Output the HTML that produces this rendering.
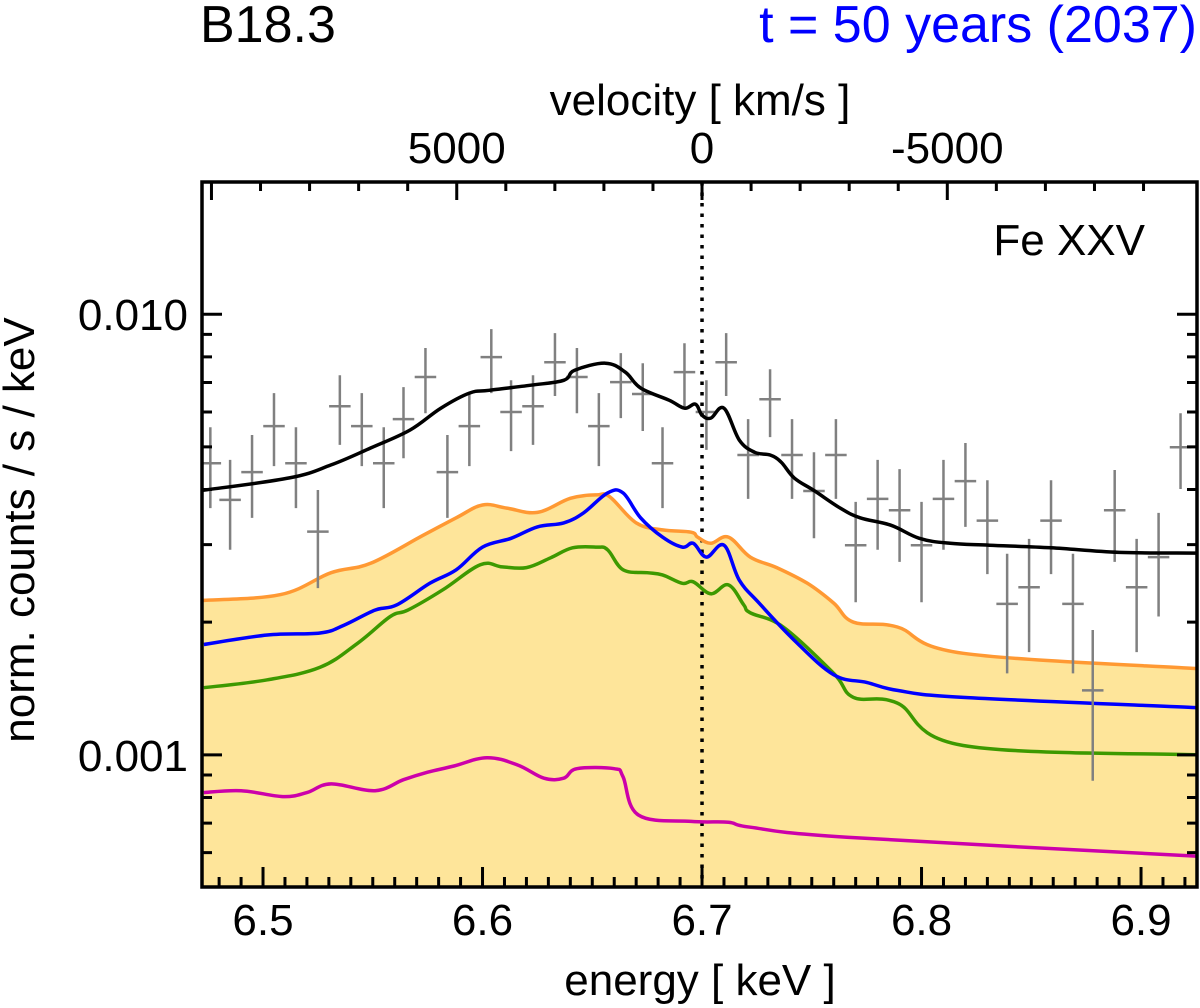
<!DOCTYPE html>
<html><head><meta charset="utf-8"><style>
html,body{margin:0;padding:0;background:#fff}
svg{display:block;font-family:"Liberation Sans",Arial,sans-serif}
</style></head><body>
<svg id="chart" width="1200" height="1008" viewBox="0 0 1200 1008" xmlns="http://www.w3.org/2000/svg">
<text x="200" y="42" font-size="52" fill="#000">B18.3</text>
<text x="1197" y="42" font-size="52" fill="#0000ff" text-anchor="end">t = 50 years (2037)</text>
<text x="700" y="115" font-size="44" text-anchor="middle">velocity [ km/s ]</text>
<text x="1145" y="255" font-size="44" text-anchor="end">Fe XXV</text>
<text x="700" y="995" font-size="44" text-anchor="middle">energy [ keV ]</text>
<text transform="translate(34,530) rotate(-90)" font-size="44" text-anchor="middle">norm. counts / s / keV</text>
<g id="plot"></g>
</svg>
<script>
const xMin=6.4722, xMax=6.9255, pLeft=202, pRight=1197, pTop=182, pBottom=887;
const yLogMin=-3.30, yLogMax=-1.70;
const xTicks=[6.5,6.6,6.7,6.8,6.9];
const xTickLabels=["6.5","6.6","6.7","6.8","6.9"];
const yTicks=[0.001,0.01];
const yTickLabels=["0.001","0.010"];
const velTicks=[5000,0,-5000];
const velTickLabels=["5000","0","-5000"];
const lineE=6.7;

const orangeE=[6.472,6.508,6.531,6.549,6.573,6.588,6.600,6.611,6.625,6.640,6.652,6.658,6.670,6.682,6.695,6.698,6.704,6.712,6.722,6.734,6.748,6.760,6.769,6.789,6.819,6.925];
const orangeV=[0.00224,0.00231,0.00259,0.00272,0.00315,0.00345,0.00369,0.00363,0.00355,0.00382,0.00389,0.00385,0.00336,0.00324,0.00320,0.00312,0.00302,0.00312,0.00281,0.00266,0.00245,0.00221,0.00200,0.00195,0.00170,0.00157];
const blueE=[6.473,6.502,6.526,6.537,6.551,6.561,6.576,6.588,6.600,6.613,6.625,6.637,6.646,6.657,6.664,6.672,6.682,6.691,6.696,6.702,6.710,6.717,6.726,6.742,6.760,6.775,6.789,6.819,6.925];
const blueV=[0.00178,0.00187,0.00189,0.00197,0.00213,0.00219,0.00245,0.00263,0.00296,0.00310,0.00329,0.00336,0.00354,0.00393,0.00393,0.00345,0.00312,0.00296,0.00302,0.00281,0.00299,0.00249,0.00221,0.00182,0.00152,0.00146,0.00140,0.00135,0.00128];
const greenE=[6.473,6.502,6.526,6.543,6.558,6.566,6.582,6.599,6.609,6.620,6.631,6.641,6.652,6.657,6.664,6.675,6.682,6.691,6.696,6.704,6.712,6.719,6.722,6.737,6.760,6.769,6.789,6.819,6.925];
const greenV=[0.00142,0.00148,0.00158,0.00179,0.00206,0.00213,0.00237,0.00270,0.00267,0.00266,0.00280,0.00295,0.00296,0.00292,0.00263,0.00259,0.00256,0.00245,0.00247,0.00232,0.00243,0.00219,0.00210,0.00195,0.00153,0.00135,0.00131,0.00105,0.00100];
const magentaE=[6.473,6.490,6.509,6.520,6.531,6.551,6.564,6.575,6.587,6.602,6.616,6.628,6.637,6.643,6.660,6.664,6.671,6.695,6.712,6.722,6.766,6.925];
const magentaV=[0.000821,0.000829,0.000804,0.000821,0.000859,0.000829,0.000878,0.000913,0.000943,0.000985,0.000948,0.000885,0.000885,0.000930,0.000930,0.000892,0.000730,0.000706,0.000703,0.000685,0.000650,0.000589];
const blackE=[6.472,6.512,6.531,6.549,6.567,6.581,6.594,6.603,6.622,6.637,6.642,6.656,6.665,6.672,6.685,6.692,6.697,6.700,6.704,6.710,6.717,6.724,6.731,6.736,6.742,6.751,6.763,6.772,6.786,6.799,6.813,6.831,6.859,6.890,6.925];
const blackV=[0.00398,0.00425,0.00455,0.00497,0.00546,0.00612,0.00662,0.00672,0.00690,0.00708,0.00746,0.00774,0.00739,0.00680,0.00638,0.00612,0.00625,0.00590,0.00581,0.00612,0.00518,0.00486,0.00479,0.00462,0.00425,0.00398,0.00363,0.00345,0.00332,0.00310,0.00302,0.00299,0.00295,0.00288,0.00287];

const dataE=[6.476,6.485,6.495,6.505,6.515,6.525,6.535,6.545,6.555,6.564,6.574,6.584,6.594,6.604,6.613,6.623,6.633,6.643,6.653,6.663,6.673,6.682,6.692,6.702,6.711,6.721,6.731,6.741,6.751,6.761,6.770,6.780,6.790,6.800,6.810,6.820,6.830,6.839,6.849,6.859,6.869,6.878,6.888,6.898,6.908,6.918];
const dataV=[0.00459,0.00379,0.00438,0.00557,0.00459,0.00321,0.00618,0.00557,0.00459,0.00578,0.00720,0.00438,0.00557,0.00799,0.00600,0.00618,0.00778,0.00720,0.00557,0.00701,0.00659,0.00459,0.00739,0.00600,0.00778,0.00479,0.00641,0.00479,0.00397,0.00479,0.00299,0.00381,0.00359,0.00299,0.00381,0.00418,0.00340,0.00220,0.00240,0.00340,0.00220,0.00140,0.00359,0.00240,0.00281,0.00499];
const dataLo=[0.00363,0.00292,0.00345,0.00452,0.00363,0.00239,0.00505,0.00452,0.00363,0.00471,0.00596,0.00345,0.00452,0.00662,0.00489,0.00505,0.00652,0.00596,0.00452,0.00581,0.00543,0.00363,0.00615,0.00492,0.00652,0.00381,0.00526,0.00381,0.00310,0.00381,0.00222,0.00292,0.00274,0.00222,0.00292,0.00329,0.00257,0.00153,0.00171,0.00257,0.00153,0.000873,0.00274,0.00171,0.00206,0.00401];
const dataHi=[0.00554,0.00467,0.00532,0.00662,0.00554,0.00399,0.00727,0.00662,0.00554,0.00683,0.00838,0.00532,0.00662,0.00925,0.00708,0.00727,0.00906,0.00838,0.00662,0.00816,0.00774,0.00554,0.00859,0.00708,0.00906,0.00578,0.00750,0.00578,0.00486,0.00578,0.00375,0.00467,0.00445,0.00375,0.00467,0.00510,0.00420,0.00286,0.00309,0.00420,0.00286,0.00192,0.00443,0.00309,0.00354,0.00596];
const binHalf=0.0049;

const NS="http://www.w3.org/2000/svg";
const X=e=>pLeft+(e-xMin)/(xMax-xMin)*(pRight-pLeft);
const Y=v=>pBottom-(Math.log10(v)-yLogMin)/(yLogMax-yLogMin)*(pBottom-pTop);
const velToE=v=>lineE*(1-v/299792.458);
const g=document.getElementById('plot');
function mk(tag,attrs,parent){const el=document.createElementNS(NS,tag);for(const k in attrs)el.setAttribute(k,attrs[k]);(parent||g).appendChild(el);return el;}
function smooth(E,V){
  const P=E.map((e,i)=>[X(e),Y(V[i])]);
  let s=`M${P[0][0].toFixed(1)},${P[0][1].toFixed(1)}`;
  for(let i=0;i<P.length-1;i++){
    const p0=P[Math.max(0,i-1)],p1=P[i],p2=P[i+1],p3=P[Math.min(P.length-1,i+2)];
    const t=0.18;
    const c1=[p1[0]+(p2[0]-p0[0])*t,p1[1]+(p2[1]-p0[1])*t];
    const c2=[p2[0]-(p3[0]-p1[0])*t,p2[1]-(p3[1]-p1[1])*t];
    s+=`C${c1[0].toFixed(1)},${c1[1].toFixed(1)} ${c2[0].toFixed(1)},${c2[1].toFixed(1)} ${p2[0].toFixed(1)},${p2[1].toFixed(1)}`;
  }
  return s;
}

const defs=mk('defs',{});
const cp=mk('clipPath',{id:'clip'},defs);
mk('rect',{x:pLeft,y:pTop,width:pRight-pLeft,height:pBottom-pTop},cp);
const clipG=mk('g',{'clip-path':'url(#clip)'});

const fill=mk('path',{d:smooth(orangeE,orangeV)+`L${X(orangeE[orangeE.length-1])},${pBottom}L${X(orangeE[0])},${pBottom}Z`,fill:'#fee59a',stroke:'none'},clipG);



const dl=mk('line',{x1:X(lineE),x2:X(lineE),y1:pTop,y2:pBottom,stroke:'#000','stroke-width':3.5,'stroke-dasharray':'3.5 7'},clipG);



const series=[[orangeE,orangeV,'#ff9933','orange-model-line'],[greenE,greenV,'#3d9900','green-model-line'],[blueE,blueV,'#0000ff','blue-model-line'],[magentaE,magentaV,'#cc00aa','magenta-model-line']];
series.forEach(s=>{
  const p=mk('path',{d:smooth(s[0],s[1]),fill:'none',stroke:s[2],'stroke-width':3.5,'stroke-linejoin':'round'},clipG);
  
  
});

const dg=mk('g',{stroke:'#808080','stroke-width':2.5},clipG);


dataE.forEach((e,i)=>{
  const c=mk('path',{d:`M${X(e-binHalf)},${Y(dataV[i])}H${X(e+binHalf)}M${X(e)},${Y(dataLo[i])}V${Y(dataHi[i])}`,fill:'none'},dg);
  
  
});

const bl=mk('path',{d:smooth(blackE,blackV),fill:'none',stroke:'#000','stroke-width':3.5,'stroke-linejoin':'round'},clipG);



const tg=mk('g',{stroke:'#000','stroke-width':3});


let d='';
for(let k=647;k<=693;k++){const e=k/100;const x=X(e);if(x<pLeft||x>pRight)continue;const L=(k%10===0)?20:10;d+=`M${x},${pBottom}v${-L}`;}
for(let v=-9000;v<=11000;v+=1000){const x=X(velToE(v));if(x<pLeft+2||x>pRight-2)continue;const L=(v%5000===0)?18:9;d+=`M${x},${pTop}v${L}`;}
for(let dec=-4;dec<=-2;dec++){for(let m=1;m<=9;m++){const v=m*Math.pow(10,dec);const lv=Math.log10(v);if(lv<yLogMin||lv>yLogMax)continue;const y=Y(v);const L=m===1?20:10;d+=`M${pLeft},${y}h${L}M${pRight},${y}h${-L}`;}}
mk('path',{d:d,fill:'none'},tg);

const fr=mk('rect',{x:pLeft,y:pTop,width:pRight-pLeft,height:pBottom-pTop,fill:'none',stroke:'#000','stroke-width':3.5});



xTicks.forEach((e,i)=>{
  const t=mk('text',{x:X(e),y:935,'font-size':44,'text-anchor':'middle'});t.textContent=xTickLabels[i];
  
  
});
yTicks.forEach((v,i)=>{
  const t=mk('text',{x:188,y:Y(v)+16,'font-size':44,'text-anchor':'end'});t.textContent=yTickLabels[i];
  
  
});
velTicks.forEach((v,i)=>{
  const t=mk('text',{x:X(velToE(v)),y:163,'font-size':44,'text-anchor':'middle'});t.textContent=velTickLabels[i];
  
  
});
</script>
</body></html>
